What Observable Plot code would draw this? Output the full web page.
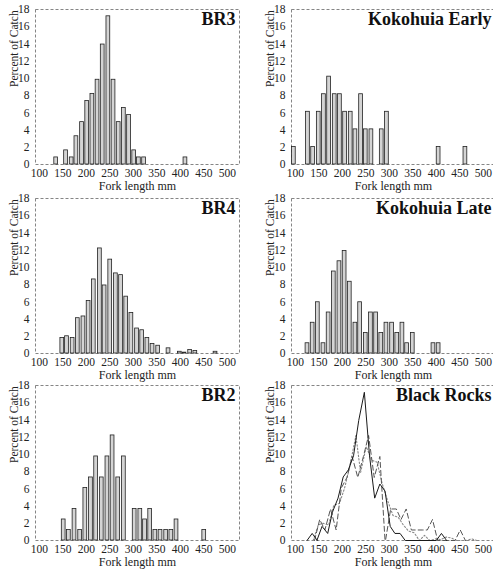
<!DOCTYPE html>
<html>
<head>
<meta charset="utf-8">
<script src="https://cdn.jsdelivr.net/npm/d3@7"></script>
<script src="https://cdn.jsdelivr.net/npm/@observablehq/plot@0.6"></script>
<style>
  html, body { margin: 0; padding: 0; background: #fff; overflow: hidden; }
  #chart { position: relative; width: 493px; height: 571px; overflow: hidden; background: #fff; }
  #chart svg { position: absolute; }
</style>
</head>
<body>
<div id="chart"></div>
<script>
// Length-frequency of the catch: fork length (mm) of each histogram bar and percent of catch.
const br3Length  = [136, 157, 169, 179, 191, 202, 213, 224, 235, 247, 258, 269, 280, 291, 302, 312, 323, 411];
const br3Percent = [0.82, 1.64, 0.82, 3.28, 4.92, 7.38, 8.2, 9.84, 13.93, 17.21, 9.84, 4.92, 6.56, 5.74, 1.64, 0.82, 0.82, 0.82];

const br4Length  = [149, 159, 171, 182, 194, 205, 216, 229, 239, 251, 263, 274, 285, 296, 308, 319, 330, 341, 353, 375, 399, 409, 421, 432, 475];
const br4Percent = [1.8, 2.0, 1.8, 4.1, 4.3, 6.1, 8.6, 12.2, 7.9, 10.9, 9.3, 9.1, 6.6, 4.7, 2.9, 2.7, 1.8, 1.1, 0.9, 0.6, 0.2, 0.1, 0.4, 0.3, 0.2];

const br2Length  = [152, 163, 175, 187, 198, 210, 221, 233, 245, 256, 268, 280, 303, 315, 325, 336, 347, 358, 370, 381, 392, 451];
const br2Percent = [2.44, 1.22, 3.66, 1.22, 6.1, 7.32, 9.76, 7.32, 9.76, 12.2, 7.32, 9.76, 3.66, 3.66, 2.44, 3.66, 1.22, 1.22, 1.22, 1.22, 2.44, 1.22];

const kokEarlyLength  = [97, 127, 138, 150, 161, 172, 184, 195, 206, 218, 228, 240, 250, 262, 284, 295, 405, 462];
const kokEarlyPercent = [2.04, 6.12, 2.04, 6.12, 8.16, 10.2, 8.16, 8.16, 6.12, 6.12, 4.08, 8.16, 4.08, 4.08, 4.08, 6.12, 2.04, 2.04];

const kokLateLength  = [126, 137, 148, 160, 171, 182, 194, 205, 216, 228, 238, 250, 261, 272, 283, 294, 306, 317, 328, 338, 350, 394, 405];
const kokLatePercent = [1.19, 3.57, 5.95, 1.19, 4.76, 9.52, 10.71, 11.9, 8.33, 3.57, 5.95, 2.38, 4.76, 4.76, 2.38, 3.57, 3.57, 2.38, 3.57, 1.19, 2.38, 1.19, 1.19];

// Axis ticks
const lengthTicks  = [100, 150, 200, 250, 300, 350, 400, 450, 500];
const percentTicks = [0, 2, 4, 6, 8, 10, 12, 14, 16, 18];

const rows = (xs, ys) => xs.map((x, i) => ({length: x, percent: ys[i]}));
const br3 = rows(br3Length, br3Percent);
const br4 = rows(br4Length, br4Percent);
const br2 = rows(br2Length, br2Percent);
const kokEarly = rows(kokEarlyLength, kokEarlyPercent);
const kokLate = rows(kokLateLength, kokLatePercent);

// Frequency polygon: drop to zero on either side of empty stretches.
function polygon(data, step = 11) {
  const out = [{length: data[0].length - step, percent: 0}];
  data.forEach((d, i) => {
    if (i > 0 && d.length - data[i - 1].length > 1.6 * step) {
      out.push({length: data[i - 1].length + step, percent: 0});
      out.push({length: d.length - step, percent: 0});
    }
    out.push(d);
  });
  out.push({length: data[data.length - 1].length + step, percent: 0});
  return out;
}

const serif = "'Liberation Serif', 'Times New Roman', serif";
const half = 4; // half bar width in mm

function bars(data) {
  return Plot.rectY(data, {
    x1: d => d.length - half,
    x2: d => d.length + half,
    y: "percent",
    fill: "#d4d4d4",
    stroke: "#222",
    strokeWidth: 0.8
  });
}

function panel(title, left, top, marks) {
  const svg = Plot.plot({
    width: 256,
    height: 192,
    marginLeft: 35,
    marginRight: 17,
    marginTop: 9,
    marginBottom: 28,
    x: {domain: [92, 526]},
    y: {domain: [0, 18]},
    style: {fontFamily: serif, fontSize: "11.5px", color: "#222", background: "transparent", overflow: "visible"},
    marks: [
      Plot.frame({stroke: "#777", strokeWidth: 0.9, strokeDasharray: "3,2"}),
      ...marks,
      Plot.axisX({ticks: lengthTicks, tickSize: 0, tickPadding: 4, label: null}),
      Plot.axisY({ticks: percentTicks, tickSize: 0, tickPadding: 6, label: null}),
      Plot.text([title], {frameAnchor: "top-right", dx: -4, dy: 3, lineAnchor: "top", fontSize: 18, fontWeight: "bold", fill: "#111"}),
      Plot.text(["Fork length mm"], {frameAnchor: "bottom", dy: 17, lineAnchor: "top", fontSize: 12, fill: "#222"}),
      Plot.text(["Percent of Catch"], {frameAnchor: "left", dx: -21, rotate: -90, fontSize: 11.5, fill: "#222"})
    ]
  });
  svg.style.left = left + "px";
  svg.style.top = top + "px";
  document.getElementById("chart").appendChild(svg);
}

panel("BR3", 0, 0, [bars(br3)]);
panel("Kokohuia Early", 256, 0, [bars(kokEarly)]);
panel("BR4", 0, 189, [bars(br4)]);
panel("Kokohuia Late", 256, 189, [bars(kokLate)]);
panel("BR2", 0, 376, [bars(br2)]);
panel("Black Rocks", 256, 376, [
  Plot.line(polygon(br4), {x: "length", y: "percent", stroke: "#888", strokeWidth: 1.1, strokeDasharray: "1.5,2"}),
  Plot.line(polygon(br2), {x: "length", y: "percent", stroke: "#555", strokeWidth: 1, strokeDasharray: "5,3"}),
  Plot.line(polygon(br3), {x: "length", y: "percent", stroke: "#1a1a1a", strokeWidth: 1})
]);
</script>
</body>
</html>
